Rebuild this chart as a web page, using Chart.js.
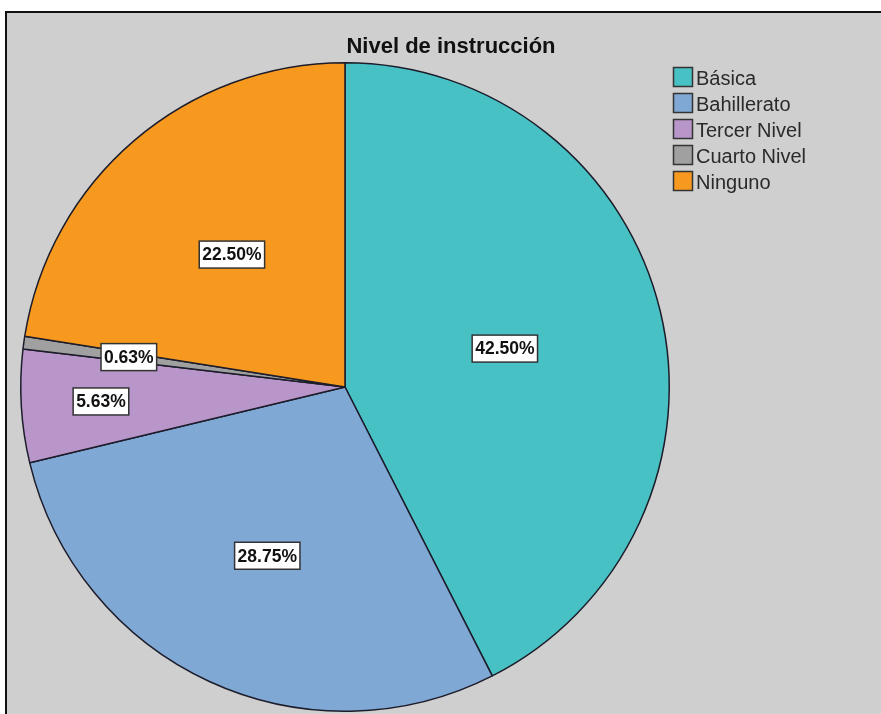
<!DOCTYPE html>
<html>
<head>
<meta charset="utf-8">
<title>Nivel de instrucción</title>
<script src="https://cdn.jsdelivr.net/npm/chart.js@4/dist/chart.umd.min.js"></script>
<style>
  html,body{margin:0;padding:0;background:#fff;width:881px;height:714px;overflow:hidden;}
  #frame{position:absolute;left:5px;top:11px;width:900px;height:720px;background:#cfcfcf;border-top:2px solid #111;border-left:2px solid #111;}
  #wrap{position:absolute;left:0;top:0;width:881px;height:714px;}
</style>
</head>
<body>
<div id="frame"></div>
<div id="wrap"><canvas id="pie" width="881" height="714"></canvas></div>
<script>
// data (percent of respondents)
const TITLE = "Nivel de instrucción";
const categories = ["Básica", "Bahillerato", "Tercer Nivel", "Cuarto Nivel", "Ninguno"];
const percents = [42.50, 28.75, 5.63, 0.63, 22.50];

// styles
const colors = ["#48c1c4", "#80a8d5", "#b896ca", "#a0a0a0", "#f7991f"];
const labelRadius = [0.507, 0.573, 0.754, 0.673, 0.537]; // fraction of radius, like SPSS placed them
const FONT = '"Liberation Sans", Arial, sans-serif';

const decor = {
  id: "decor",
  afterDraw(chart){
    const ctx = chart.ctx;
    ctx.save();
    // title
    ctx.fillStyle = "#111";
    ctx.font = "bold 22px " + FONT;
    ctx.textAlign = "center";
    ctx.textBaseline = "alphabetic";
    ctx.fillText(TITLE, 451, 53);

    // value labels in white boxes
    const meta = chart.getDatasetMeta(0);
    ctx.font = "bold 17.5px " + FONT;
    meta.data.forEach((arc, i)=>{
      const p = arc.getProps(["x","y","startAngle","endAngle","outerRadius"], true);
      const mid = (p.startAngle + p.endAngle)/2;
      const r = p.outerRadius * labelRadius[i];
      const cx = p.x + Math.cos(mid)*r;
      const cy = p.y + Math.sin(mid)*r;
      const txt = percents[i].toFixed(2) + "%";
      const w = ctx.measureText(txt).width + 6;
      const h = 27;
      ctx.fillStyle = "#fff";
      ctx.fillRect(cx - w/2, cy - h/2, w, h);
      ctx.lineWidth = 1.5;
      ctx.strokeStyle = "#333";
      ctx.strokeRect(cx - w/2, cy - h/2, w, h);
      ctx.fillStyle = "#111";
      ctx.textAlign = "center";
      ctx.textBaseline = "middle";
      ctx.fillText(txt, cx, cy + 1);
    });

    // legend
    ctx.font = "20px " + FONT;
    ctx.textAlign = "left";
    ctx.textBaseline = "alphabetic";
    categories.forEach((c, i)=>{
      const y = 67 + i*26;
      ctx.fillStyle = colors[i];
      ctx.fillRect(673, y, 20, 20);
      ctx.lineWidth = 1.5;
      ctx.strokeStyle = "#333";
      ctx.strokeRect(673.5, y + 0.5, 19, 19);
      ctx.fillStyle = "#2a2a2a";
      ctx.fillText(c, 696, y + 18);
    });
    ctx.restore();
  }
};

new Chart(document.getElementById("pie"), {
  type: "pie",
  data: {
    labels: categories,
    datasets: [{
      data: percents,
      backgroundColor: colors,
      borderColor: "#1c1c2a",
      borderWidth: 1.5
    }]
  },
  options: {
    responsive: false,
    animation: false,
    layout: { padding: { left: 20, top: 62, right: 211, bottom: 2 } },
    plugins: {
      legend: { display: false },
      title: { display: false },
      tooltip: { enabled: false }
    }
  },
  plugins: [decor]
});
</script>
</body>
</html>
